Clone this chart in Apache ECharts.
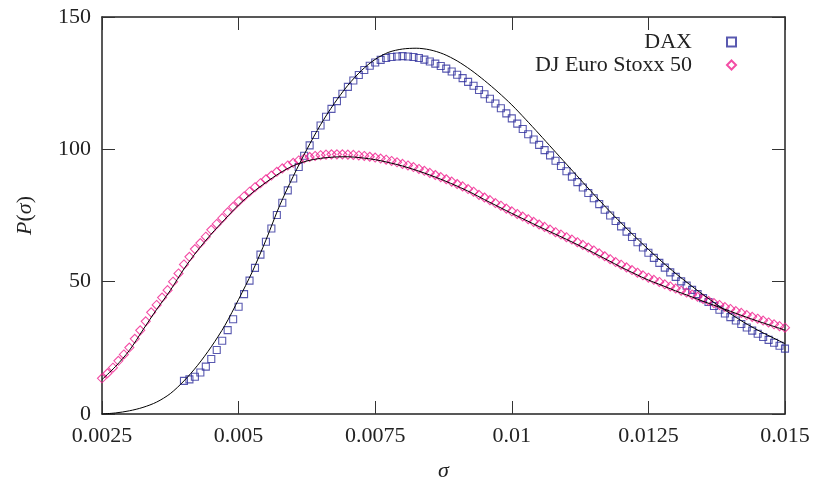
<!DOCTYPE html>
<html>
<head>
<meta charset="utf-8">
<script src="https://cdn.jsdelivr.net/npm/echarts@6/dist/echarts.min.js"></script>
<style>
  html, body { margin: 0; padding: 0; background: #fff; }
  #grafico { width: 814px; height: 481px; }
</style>
</head>
<body>
<div id="grafico"></div>
<script>
// sigma grid of the measured points (step 0.0001)
const sigmaPontos = [
  0.0025, 0.0026, 0.0027, 0.0028, 0.0029, 0.0030, 0.0031, 0.0032, 0.0033, 0.0034,
  0.0035, 0.0036, 0.0037, 0.0038, 0.0039, 0.0040, 0.0041, 0.0042, 0.0043, 0.0044,
  0.0045, 0.0046, 0.0047, 0.0048, 0.0049, 0.0050, 0.0051, 0.0052, 0.0053, 0.0054,
  0.0055, 0.0056, 0.0057, 0.0058, 0.0059, 0.0060, 0.0061, 0.0062, 0.0063, 0.0064,
  0.0065, 0.0066, 0.0067, 0.0068, 0.0069, 0.0070, 0.0071, 0.0072, 0.0073, 0.0074,
  0.0075, 0.0076, 0.0077, 0.0078, 0.0079, 0.0080, 0.0081, 0.0082, 0.0083, 0.0084,
  0.0085, 0.0086, 0.0087, 0.0088, 0.0089, 0.0090, 0.0091, 0.0092, 0.0093, 0.0094,
  0.0095, 0.0096, 0.0097, 0.0098, 0.0099, 0.0100, 0.0101, 0.0102, 0.0103, 0.0104,
  0.0105, 0.0106, 0.0107, 0.0108, 0.0109, 0.0110, 0.0111, 0.0112, 0.0113, 0.0114,
  0.0115, 0.0116, 0.0117, 0.0118, 0.0119, 0.0120, 0.0121, 0.0122, 0.0123, 0.0124,
  0.0125, 0.0126, 0.0127, 0.0128, 0.0129, 0.0130, 0.0131, 0.0132, 0.0133, 0.0134,
  0.0135, 0.0136, 0.0137, 0.0138, 0.0139, 0.0140, 0.0141, 0.0142, 0.0143, 0.0144,
  0.0145, 0.0146, 0.0147, 0.0148, 0.0149, 0.0150
];

// DJ Euro Stoxx 50 (0.0025 .. 0.015)
const euroP = [
  13.5, 15.4, 17.5, 20.1, 22.5, 25.1, 28.4, 31.6, 35.0, 38.4,
  41.2, 44.0, 46.8, 50.0, 53.1, 56.5, 59.4, 62.3, 64.6, 67.0,
  69.6, 71.8, 74.0, 76.2, 78.3, 80.3, 82.2, 84.0, 85.7, 87.2,
  88.7, 90.1, 91.5, 92.8, 93.9, 94.9, 95.8, 96.5, 97.1, 97.5,
  97.8, 98.0, 98.1, 98.1, 98.1, 98.0, 97.9, 97.7, 97.5, 97.2,
  96.9, 96.5, 96.1, 95.6, 95.1, 94.5, 93.9, 93.3, 92.6, 91.9,
  91.1, 90.3, 89.5, 88.7, 87.8, 86.9, 86.0, 85.0, 84.0, 82.8,
  81.8, 80.8, 79.7, 78.7, 77.6, 76.6, 75.6, 74.6, 73.6, 72.6,
  71.6, 70.7, 69.7, 68.7, 67.8, 66.8, 65.9, 64.9, 63.9, 62.9,
  61.8, 60.7, 59.6, 58.5, 57.4, 56.4, 55.4, 54.4, 53.4, 52.4,
  51.5, 50.7, 49.9, 49.0, 48.2, 47.4, 46.6, 45.9, 45.1, 44.3,
  43.5, 42.7, 41.9, 41.2, 40.4, 39.7, 38.9, 38.2, 37.4, 36.7,
  36.0, 35.3, 34.6, 33.9, 33.2, 32.6
];

// DAX (0.0040 .. 0.015)
const daxP = [
  12.5, 13.1, 14.1, 15.7, 17.9, 20.8, 24.2, 27.7, 31.7, 35.8,
  40.5, 45.3, 50.4, 55.2, 60.2, 65.1, 70.1, 75.2, 79.8, 84.5,
  89.0, 93.3, 97.6, 101.5, 105.4, 109.0, 112.3, 115.3, 118.2, 121.0,
  123.6, 126.0, 128.1, 130.0, 131.6, 132.8, 133.8, 134.5, 134.9, 135.1,
  135.2, 135.1, 134.9, 134.5, 133.9, 133.2, 132.4, 131.5, 130.5, 129.4,
  128.2, 126.9, 125.5, 124.0, 122.4, 120.8, 119.1, 117.3, 115.5, 113.6,
  111.7, 109.7, 107.7, 105.7, 103.7, 101.7, 99.7, 97.7, 95.7, 93.7,
  91.7, 89.7, 87.6, 85.6, 83.5, 81.5, 79.3, 77.2, 75.0, 72.9,
  70.9, 68.9, 66.9, 64.9, 62.9, 60.9, 59.0, 57.1, 55.3, 53.5,
  51.8, 50.1, 48.5, 46.9, 45.3, 43.8, 42.3, 40.8, 39.4, 38.0,
  36.6, 35.3, 34.0, 32.7, 31.5, 30.3, 29.1, 28.0, 26.9, 25.8,
  24.7
];
const daxSigma = sigmaPontos.slice(15);

// fitted curves, read at steps of 0.00025
const sigmaAjuste = [
  0.0025, 0.00275, 0.003, 0.00325, 0.0035, 0.00375, 0.004, 0.00425, 0.0045, 0.00475,
  0.005, 0.00525, 0.0055, 0.00575, 0.006, 0.00625, 0.0065, 0.00675, 0.007, 0.00725,
  0.0075, 0.00775, 0.008, 0.00825, 0.0085, 0.00875, 0.009, 0.00925, 0.0095, 0.00975,
  0.01, 0.01025, 0.0105, 0.01075, 0.011, 0.01125, 0.0115, 0.01175, 0.012, 0.01225,
  0.0125, 0.01275, 0.013, 0.01325, 0.0135, 0.01375, 0.014, 0.01425, 0.0145, 0.01475,
  0.015
];
const ajusteDax = [
  0.0, 0.4, 1.2, 2.5, 4.5, 7.7, 12.5, 18.4, 25.4, 33.5,
  43.3, 53.7, 65.7, 78.7, 89.8, 100.0, 109.3, 117.3, 124.2, 129.8,
  134.0, 136.7, 137.9, 138.2, 137.6, 136.0, 133.4, 130.0, 126.0, 121.6,
  116.8, 111.4, 105.8, 100.1, 94.4, 88.7, 83.0, 77.5, 72.2, 67.1,
  62.2, 57.5, 53.1, 49.0, 45.1, 41.4, 37.9, 34.6, 31.7, 29.1,
  26.6
];
const ajusteEuro = [
  13.0, 18.0, 24.0, 31.8, 39.5, 46.7, 54.8, 61.8, 68.0, 73.6,
  79.0, 83.6, 87.5, 91.0, 93.8, 95.6, 96.6, 97.1, 97.2, 96.8,
  96.1, 95.0, 93.7, 92.1, 90.3, 88.3, 86.1, 83.7, 81.0, 78.4,
  75.8, 73.3, 70.8, 68.4, 66.0, 63.5, 60.9, 58.2, 55.5, 53.0,
  50.6, 48.6, 46.5, 44.6, 42.6, 40.7, 38.8, 36.9, 35.1, 33.4,
  31.7
];

const xTicks = [0.0025, 0.005, 0.0075, 0.01, 0.0125, 0.015];
const xTickLabels = ["0.0025", "0.005", "0.0075", "0.01", "0.0125", "0.015"];

const fonte = "'Liberation Serif', 'DejaVu Serif', serif";
const corTexto = "#222";
const corDax = "#2f2f9c";
const corEuro = "#f0208f";

const pares = (xs, ys) => ys.map((y, i) => [xs[i], y]);

function rotuloX(v) {
  const i = xTicks.findIndex((t) => Math.abs(t - v) < 1e-9);
  return i >= 0 ? xTickLabels[i] : "";
}

let chart = echarts.init(document.getElementById("grafico"));

const eixoBase = {
  axisLine: { show: true, onZero: false, lineStyle: { color: "#222", width: 1.5 } },
  axisTick: { show: true, inside: true, length: 13, lineStyle: { color: "#333", width: 1 } },
  splitLine: { show: false },
};

const estiloNome = {
  fontFamily: fonte, fontSize: 22, color: corTexto,
  rich: { i: { fontFamily: fonte, fontSize: 22, fontStyle: "italic", color: corTexto } },
};

const legendaBase = {
  orient: "vertical",
  align: "right",
  right: 77,
  padding: 0,
  itemWidth: 9,
  itemHeight: 9,
  textStyle: { fontFamily: fonte, fontSize: 22, color: corTexto, padding: [0, 30, 0, 0] },
};

chart.setOption({
  animation: false,
  grid: { left: 102, right: 29, top: 17, bottom: 67, containLabel: false, outerBoundsMode: "none" },
  legend: [
    { ...legendaBase, top: 31, data: ["DAX"] },
    { ...legendaBase, top: 54, data: ["DJ Euro Stoxx 50"] },
  ],
  xAxis: [
    {
      ...eixoBase,
      type: "value",
      min: 0.0025,
      max: 0.015,
      interval: 0.0025,
      name: "{i|σ}",
      nameLocation: "middle",
      nameGap: 46,
      nameTextStyle: estiloNome,
      axisLabel: { margin: 11, fontFamily: fonte, fontSize: 22, color: corTexto, formatter: rotuloX },
    },
    {
      ...eixoBase,
      type: "value",
      position: "top",
      min: 0.0025,
      max: 0.015,
      interval: 0.0025,
      axisLabel: { show: false },
    },
  ],
  yAxis: [
    {
      ...eixoBase,
      type: "value",
      min: 0,
      max: 150,
      interval: 50,
      name: "{i|P}(" + "{i|σ})",
      nameLocation: "middle",
      nameRotate: 90,
      nameGap: 66,
      nameTextStyle: estiloNome,
      axisLabel: { margin: 11, fontFamily: fonte, fontSize: 22, color: corTexto },
    },
    {
      ...eixoBase,
      type: "value",
      position: "right",
      min: 0,
      max: 150,
      interval: 50,
      axisLabel: { show: false },
    },
  ],
  series: [
    {
      name: "DAX",
      type: "scatter",
      symbol: "rect",
      symbolSize: 7,
      itemStyle: { color: "rgba(0,0,0,0)", borderColor: corDax, borderWidth: 1.1 },
      data: pares(daxSigma, daxP),
      z: 2,
    },
    {
      name: "DJ Euro Stoxx 50",
      type: "scatter",
      symbol: "diamond",
      symbolSize: 9,
      itemStyle: { color: "rgba(0,0,0,0)", borderColor: corEuro, borderWidth: 1.1 },
      data: pares(sigmaPontos, euroP),
      z: 2,
    },
    {
      name: "ajuste DAX",
      type: "line",
      showSymbol: false,
      smooth: 0.3,
      lineStyle: { color: "#000", width: 1 },
      data: pares(sigmaAjuste, ajusteDax),
      z: 3,
    },
    {
      name: "ajuste Euro",
      type: "line",
      showSymbol: false,
      smooth: 0.3,
      lineStyle: { color: "#000", width: 1 },
      data: pares(sigmaAjuste, ajusteEuro),
      z: 3,
    },
  ],
});
</script>
</body>
</html>
